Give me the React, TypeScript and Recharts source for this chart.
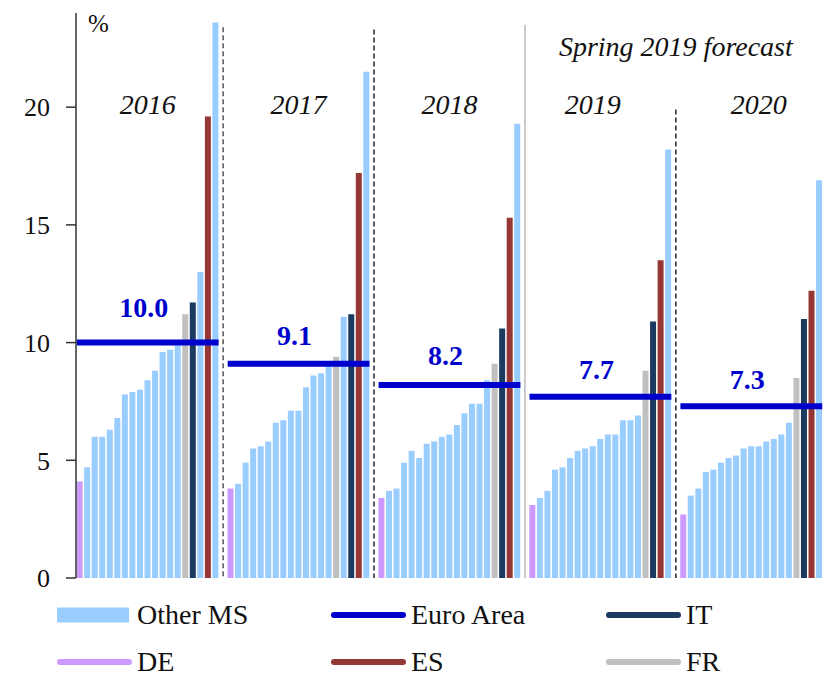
import React from 'react';
import {
  ComposedChart,
  Bar,
  Line,
  XAxis,
  YAxis,
  ReferenceLine,
  ReferenceDot,
  LabelList,
} from 'recharts';

// ---------------- data ----------------
const YEARS = ['2016', '2017', '2018', '2019', '2020'];
const EURO_AREA = [10.0, 9.1, 8.2, 7.7, 7.3];
const DE = [4.1, 3.8, 3.4, 3.1, 2.7];
const FR = [11.2, 9.4, 9.1, 8.8, 8.5];
const IT = [11.7, 11.2, 10.6, 10.9, 11.0];
const ES = [19.6, 17.2, 15.3, 13.5, 12.2];

const OTHER_2016 = [4.7, 6.0, 6.0, 6.3, 6.8, 7.8, 7.9, 8.0, 8.4, 8.8, 9.6, 9.7, 9.9, 13.0, 23.6];
const OTHER_2017 = [4.0, 4.9, 5.5, 5.6, 5.8, 6.6, 6.7, 7.1, 7.1, 8.1, 8.6, 8.7, 9.0, 11.1, 21.5];
const OTHER_2018 = [3.7, 3.8, 4.9, 5.4, 5.1, 5.7, 5.8, 6.0, 6.1, 6.5, 7.0, 7.4, 7.4, 8.4, 19.3];
const OTHER_2019 = [3.4, 3.7, 4.6, 4.7, 5.1, 5.4, 5.5, 5.6, 5.9, 6.1, 6.1, 6.7, 6.7, 6.9, 18.2];
const OTHER_2020 = [3.5, 3.8, 4.5, 4.6, 4.9, 5.1, 5.2, 5.5, 5.6, 5.6, 5.8, 5.9, 6.1, 6.6, 16.9];
const OTHER_MS = [OTHER_2016, OTHER_2017, OTHER_2018, OTHER_2019, OTHER_2020];

// bar order inside each year: D=DE, O=other MS, F=FR, I=IT, E=ES
const BAR_ORDER = [
  'D' + 'O'.repeat(13) + 'FIOEO',
  'D' + 'O'.repeat(13) + 'FOIEO',
  'D' + 'O'.repeat(14) + 'FIEO',
  'D' + 'O'.repeat(14) + 'FIEO',
  'D' + 'O'.repeat(14) + 'FIEO',
];

const Y_TICKS = [0, 5, 10, 15, 20];

// ---------------- styles ----------------
const C_OTHER = '#99CCFF';
const C_DE = '#CC99FF';
const C_FR = '#C0C0C0';
const C_IT = '#1B3A62';
const C_ES = '#953735';
const C_EA = '#0000CC';
const FONT = "'Liberation Serif', 'DejaVu Serif', 'Times New Roman', Times, serif";

type Row = {
  cat: string;
  other?: number;
  de?: number;
  fr?: number;
  it?: number;
  es?: number;
  ea: number | null;
};

const rows: Row[] = [];
YEARS.forEach((year, y) => {
  if (y > 0) rows.push({ cat: `sep-${y}`, ea: null });
  let o = 0;
  BAR_ORDER[y].split('').forEach((code, i) => {
    const row: Row = { cat: `${year}-${i}`, ea: EURO_AREA[y] };
    if (code === 'D') row.de = DE[y];
    else if (code === 'F') row.fr = FR[y];
    else if (code === 'I') row.it = IT[y];
    else if (code === 'E') row.es = ES[y];
    else row.other = OTHER_MS[y][o++];
    rows.push(row);
  });
});

// which slot of each year carries the euro-area value label / year label
const EA_LABEL_SLOT = 9;
const EA_LABEL_LIFT = [26, 19, 20, 18, 17];
const YEAR_LABEL_SLOT = [9, 9, 9, 8, 10];
const eaLabelRows = new Map<number, number>();
YEARS.forEach((_, y) => eaLabelRows.set(y * 20 + EA_LABEL_SLOT, y));

const SEPARATORS = [
  { cat: 'sep-1', top: 23.4, color: '#555', dash: '5 3' },
  { cat: 'sep-2', top: 23.3, color: '#222', dash: '5 3' },
  { cat: 'sep-3', top: 23.5, color: '#999', dash: undefined },
  { cat: 'sep-4', top: 19.9, color: '#222', dash: '5 3' },
];

const renderEaLabel = (p: any) => {
  const yi = eaLabelRows.get(p.index);
  if (yi === undefined || p.x == null || p.y == null) return null;
  return (
    <text
      x={p.x - 4}
      y={p.y - EA_LABEL_LIFT[yi]}
      textAnchor="middle"
      style={{ fontFamily: FONT, fontSize: 28, fontWeight: 'bold' }}
      fill={C_EA}
    >
      {Number(p.value).toFixed(1)}
    </text>
  );
};

const textLabel =
  (text: string, opts: { italic?: boolean; size?: number; dx?: number }) =>
  (props: any) => {
    const vb = props.viewBox || {};
    const x = (vb.x ?? 0) + (vb.width ?? 0) / 2 + (opts.dx ?? 0);
    const y = (vb.y ?? 0) + (vb.height ?? 0) / 2;
    return (
      <text
        x={x}
        y={y}
        textAnchor="middle"
        style={{
          fontFamily: FONT,
          fontSize: opts.size ?? 28,
          fontStyle: opts.italic ? 'italic' : 'normal',
        }}
        fill="#111"
      >
        {text}
      </text>
    );
  };

const LEGEND = [
  { name: 'Other MS', color: C_OTHER, kind: 'rect', col: 0, row: 0 },
  { name: 'Euro Area', color: C_EA, kind: 'line', col: 1, row: 0 },
  { name: 'IT', color: C_IT, kind: 'line', col: 2, row: 0 },
  { name: 'DE', color: C_DE, kind: 'line', col: 0, row: 1 },
  { name: 'ES', color: C_ES, kind: 'line', col: 1, row: 1 },
  { name: 'FR', color: C_FR, kind: 'line', col: 2, row: 1 },
];
const LEG_COL_X = [57, 331, 606];
const LEG_ROW_Y = [615, 662];

export default function App() {
  return (
    <div
      style={{
        position: 'absolute',
        left: 0,
        top: 0,
        width: 827,
        height: 676,
        overflow: 'hidden',
        background: '#fff',
        fontFamily: FONT,
      }}
    >
      <ComposedChart
        width={827}
        height={676}
        data={rows}
        margin={{ top: 13, right: 4, bottom: 98, left: 0 }}
        barCategoryGap="8%"
        style={{ fontFamily: FONT }}
      >
        <XAxis
          dataKey="cat"
          type="category"
          tick={false}
          tickLine={false}
          height={0}
          axisLine={{ stroke: '#333', strokeWidth: 1.5 }}
        />
        <YAxis
          type="number"
          domain={[0, 24]}
          ticks={Y_TICKS}
          allowDataOverflow
          width={76}
          tickSize={10}
          tickMargin={16}
          tick={{ fontSize: 26, fill: '#111', fontFamily: FONT, style: { fontFamily: FONT } }}
          tickLine={{ stroke: '#333', strokeWidth: 1.5 }}
          axisLine={{ stroke: '#333', strokeWidth: 1.5 }}
        />
        {SEPARATORS.map((s) => (
          <ReferenceLine
            key={s.cat}
            segment={[
              { x: s.cat, y: s.top },
              { x: s.cat, y: 0 },
            ]}
            stroke={s.color}
            strokeWidth={s.dash ? 1.5 : 1}
            strokeDasharray={s.dash}
          />
        ))}
        <Bar dataKey="other" name="Other MS" stackId="s" fill={C_OTHER} isAnimationActive={false} />
        <Bar dataKey="de" name="DE" stackId="s" fill={C_DE} isAnimationActive={false} />
        <Bar dataKey="fr" name="FR" stackId="s" fill={C_FR} isAnimationActive={false} />
        <Bar dataKey="it" name="IT" stackId="s" fill={C_IT} isAnimationActive={false} />
        <Bar dataKey="es" name="ES" stackId="s" fill={C_ES} isAnimationActive={false} />
        <Line
          dataKey="ea"
          name="Euro Area"
          type="linear"
          stroke={C_EA}
          strokeWidth={6}
          strokeLinecap="square"
          dot={false}
          activeDot={false}
          connectNulls={false}
          isAnimationActive={false}
        >
          <LabelList dataKey="ea" content={renderEaLabel} />
        </Line>
        {YEARS.map((year, y) => (
          <ReferenceDot
            key={year}
            x={`${year}-${YEAR_LABEL_SLOT[y]}`}
            y={19.73}
            r={0}
            fill="none"
            stroke="none"
            label={textLabel(year, { italic: true, size: 28 })}
          />
        ))}
        <ReferenceDot
          x="sep-4"
          y={22.17}
          r={0}
          fill="none"
          stroke="none"
          label={textLabel('Spring 2019 forecast', { italic: true, size: 28 })}
        />
        <ReferenceDot
          x="2016-3"
          y={23.2}
          r={0}
          fill="none"
          stroke="none"
          label={textLabel('%', { size: 25, dx: -4 })}
        />
      </ComposedChart>
      <svg
        width={827}
        height={96}
        style={{ position: 'absolute', left: 0, top: 580 }}
      >
        {LEGEND.map((item) => {
          const x0 = LEG_COL_X[item.col];
          const cy = LEG_ROW_Y[item.row] - 580;
          return (
            <g key={item.name}>
              {item.kind === 'rect' ? (
                <rect x={x0} y={cy - 7.5} width={72} height={15} fill={item.color} />
              ) : (
                <line
                  x1={x0 + 3}
                  x2={x0 + 72}
                  y1={cy}
                  y2={cy}
                  stroke={item.color}
                  strokeWidth={6}
                  strokeLinecap="round"
                />
              )}
              <text
                x={x0 + 80}
                y={cy + 9}
                style={{ fontFamily: FONT, fontSize: 28 }}
                fill="#111"
              >
                {item.name}
              </text>
            </g>
          );
        })}
      </svg>
    </div>
  );
}
